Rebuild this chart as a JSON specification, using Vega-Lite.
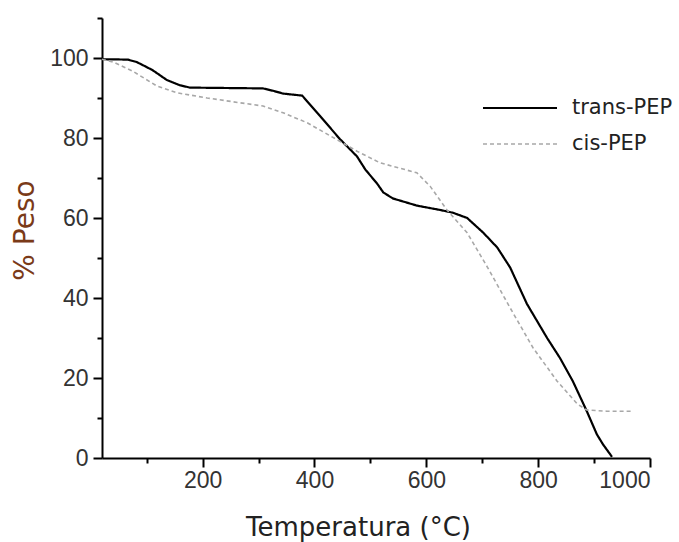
{
  "$schema": "https://vega.github.io/schema/vega-lite/v6.json",
  "width": 548,
  "height": 440,
  "autosize": "none",
  "padding": {"left": 102, "top": 18, "right": 29, "bottom": 84},
  "background": "white",
  "config": {
    "view": {"stroke": null},
    "axis": {
      "domainColor": "#000", "domainWidth": 2, "tickColor": "#000", "tickWidth": 2,
      "labelColor": "#333", "labelFont": "Liberation Sans", "labelFontSize": 23,
      "grid": false, "titleFont": "DejaVu Sans", "titleFontWeight": "normal"
    }
  },
  "data": {"values": [
    {"series": "trans-PEP", "T": 20, "w": 99.7},
    {"series": "trans-PEP", "T": 66, "w": 99.6},
    {"series": "trans-PEP", "T": 82, "w": 99.0},
    {"series": "trans-PEP", "T": 110, "w": 97.0},
    {"series": "trans-PEP", "T": 136, "w": 94.5},
    {"series": "trans-PEP", "T": 159, "w": 93.2},
    {"series": "trans-PEP", "T": 177, "w": 92.6},
    {"series": "trans-PEP", "T": 308, "w": 92.4},
    {"series": "trans-PEP", "T": 326, "w": 91.8},
    {"series": "trans-PEP", "T": 344, "w": 91.1},
    {"series": "trans-PEP", "T": 378, "w": 90.6},
    {"series": "trans-PEP", "T": 410, "w": 85.5},
    {"series": "trans-PEP", "T": 445, "w": 79.8},
    {"series": "trans-PEP", "T": 476, "w": 75.4},
    {"series": "trans-PEP", "T": 491, "w": 72.1},
    {"series": "trans-PEP", "T": 512, "w": 68.6},
    {"series": "trans-PEP", "T": 523, "w": 66.4},
    {"series": "trans-PEP", "T": 540, "w": 64.9},
    {"series": "trans-PEP", "T": 583, "w": 63.1},
    {"series": "trans-PEP", "T": 625, "w": 62.0},
    {"series": "trans-PEP", "T": 648, "w": 61.3},
    {"series": "trans-PEP", "T": 673, "w": 60.0},
    {"series": "trans-PEP", "T": 702, "w": 56.3},
    {"series": "trans-PEP", "T": 727, "w": 52.6},
    {"series": "trans-PEP", "T": 750, "w": 47.6},
    {"series": "trans-PEP", "T": 780, "w": 38.5},
    {"series": "trans-PEP", "T": 816, "w": 30.0},
    {"series": "trans-PEP", "T": 839, "w": 25.0},
    {"series": "trans-PEP", "T": 862, "w": 19.2},
    {"series": "trans-PEP", "T": 887, "w": 11.7},
    {"series": "trans-PEP", "T": 905, "w": 5.9},
    {"series": "trans-PEP", "T": 916, "w": 3.4},
    {"series": "trans-PEP", "T": 932, "w": 0.3},
    {"series": "cis-PEP", "T": 20, "w": 99.7},
    {"series": "cis-PEP", "T": 40, "w": 99.0},
    {"series": "cis-PEP", "T": 75, "w": 96.7},
    {"series": "cis-PEP", "T": 118, "w": 93.0},
    {"series": "cis-PEP", "T": 154, "w": 91.3},
    {"series": "cis-PEP", "T": 208, "w": 90.0},
    {"series": "cis-PEP", "T": 267, "w": 88.8},
    {"series": "cis-PEP", "T": 308, "w": 88.0},
    {"series": "cis-PEP", "T": 344, "w": 86.3},
    {"series": "cis-PEP", "T": 387, "w": 83.8},
    {"series": "cis-PEP", "T": 440, "w": 79.6},
    {"series": "cis-PEP", "T": 476, "w": 76.7},
    {"series": "cis-PEP", "T": 517, "w": 73.8},
    {"series": "cis-PEP", "T": 583, "w": 71.3},
    {"series": "cis-PEP", "T": 607, "w": 67.9},
    {"series": "cis-PEP", "T": 637, "w": 62.0},
    {"series": "cis-PEP", "T": 673, "w": 56.3},
    {"series": "cis-PEP", "T": 711, "w": 47.3},
    {"series": "cis-PEP", "T": 750, "w": 37.5},
    {"series": "cis-PEP", "T": 791, "w": 27.5},
    {"series": "cis-PEP", "T": 834, "w": 19.2},
    {"series": "cis-PEP", "T": 870, "w": 13.5},
    {"series": "cis-PEP", "T": 887, "w": 12.0},
    {"series": "cis-PEP", "T": 923, "w": 11.7},
    {"series": "cis-PEP", "T": 970, "w": 11.7}
  ]},
  "layer": [
    {
      "mark": {"type": "line", "interpolate": "linear"},
      "encoding": {
        "x": {"field": "T", "type": "quantitative", "scale": {"domain": [20, 1000], "nice": false, "zero": false},
              "axis": {"orient": "bottom", "values": [200, 400, 600, 800, 1000], "format": "d", "tickSize": 9, "labelPadding": 2,
                       "title": "Temperatura (°C)", "titleColor": "#222", "titleFontSize": 26,
                       "titleX": 256, "titleY": 77, "titleBaseline": "alphabetic", "titleAlign": "center"}},
        "y": {"field": "w", "type": "quantitative", "scale": {"domain": [0, 110], "nice": false},
              "axis": {"orient": "left", "values": [0, 20, 40, 60, 80, 100], "tickSize": 9, "labelPadding": 5,
                       "title": "% Peso", "titleColor": "#7a3a18", "titleFontSize": 28,
                       "titleAngle": 270, "titleX": -69, "titleY": 212, "titleBaseline": "alphabetic", "titleAlign": "center"}},
        "color": {"field": "series", "type": "nominal",
                  "scale": {"domain": ["trans-PEP", "cis-PEP"], "range": ["#000000", "#a8a8a8"]},
                  "legend": {"title": null, "orient": "none", "legendX": 381, "legendY": 78, "padding": 0,
                             "symbolType": "stroke", "symbolSize": 5476, "symbolStrokeWidth": 2,
                             "labelFont": "DejaVu Sans", "labelFontSize": 21, "labelColor": "#222",
                             "labelBaseline": "middle", "rowPadding": 14,
                             "encode": {
                               "symbols": {"update": {
                                 "x": {"value": 37}, "y": {"value": 12},
                                 "strokeDash": {"signal": "datum.value === 'cis-PEP' ? [6, 7] : [1, 0]"}}},
                               "labels": {"update": {"x": {"value": 89}, "y": {"value": 12}}}}}},
        "strokeDash": {"field": "series", "type": "nominal",
                       "scale": {"domain": ["trans-PEP", "cis-PEP"], "range": [[1, 0], [4, 3]]}, "legend": null},
        "strokeWidth": {"field": "series", "type": "nominal",
                        "scale": {"domain": ["trans-PEP", "cis-PEP"], "range": [2.2, 1.6]}, "legend": null}
      }
    },
    {
      "transform": [{"filter": "false"}],
      "mark": {"type": "rule"},
      "encoding": {
        "x": {"field": "T", "type": "quantitative",
              "axis": {"orient": "bottom", "values": [100, 300, 500, 700, 900], "tickSize": 5, "labels": false, "domain": false, "title": null}},
        "y": {"field": "w", "type": "quantitative",
              "axis": {"orient": "left", "values": [10, 30, 50, 70, 90, 110], "tickSize": 5, "labels": false, "domain": false, "title": null}}
      }
    }
  ],
  "resolve": {"axis": {"x": "independent", "y": "independent"}}
}
